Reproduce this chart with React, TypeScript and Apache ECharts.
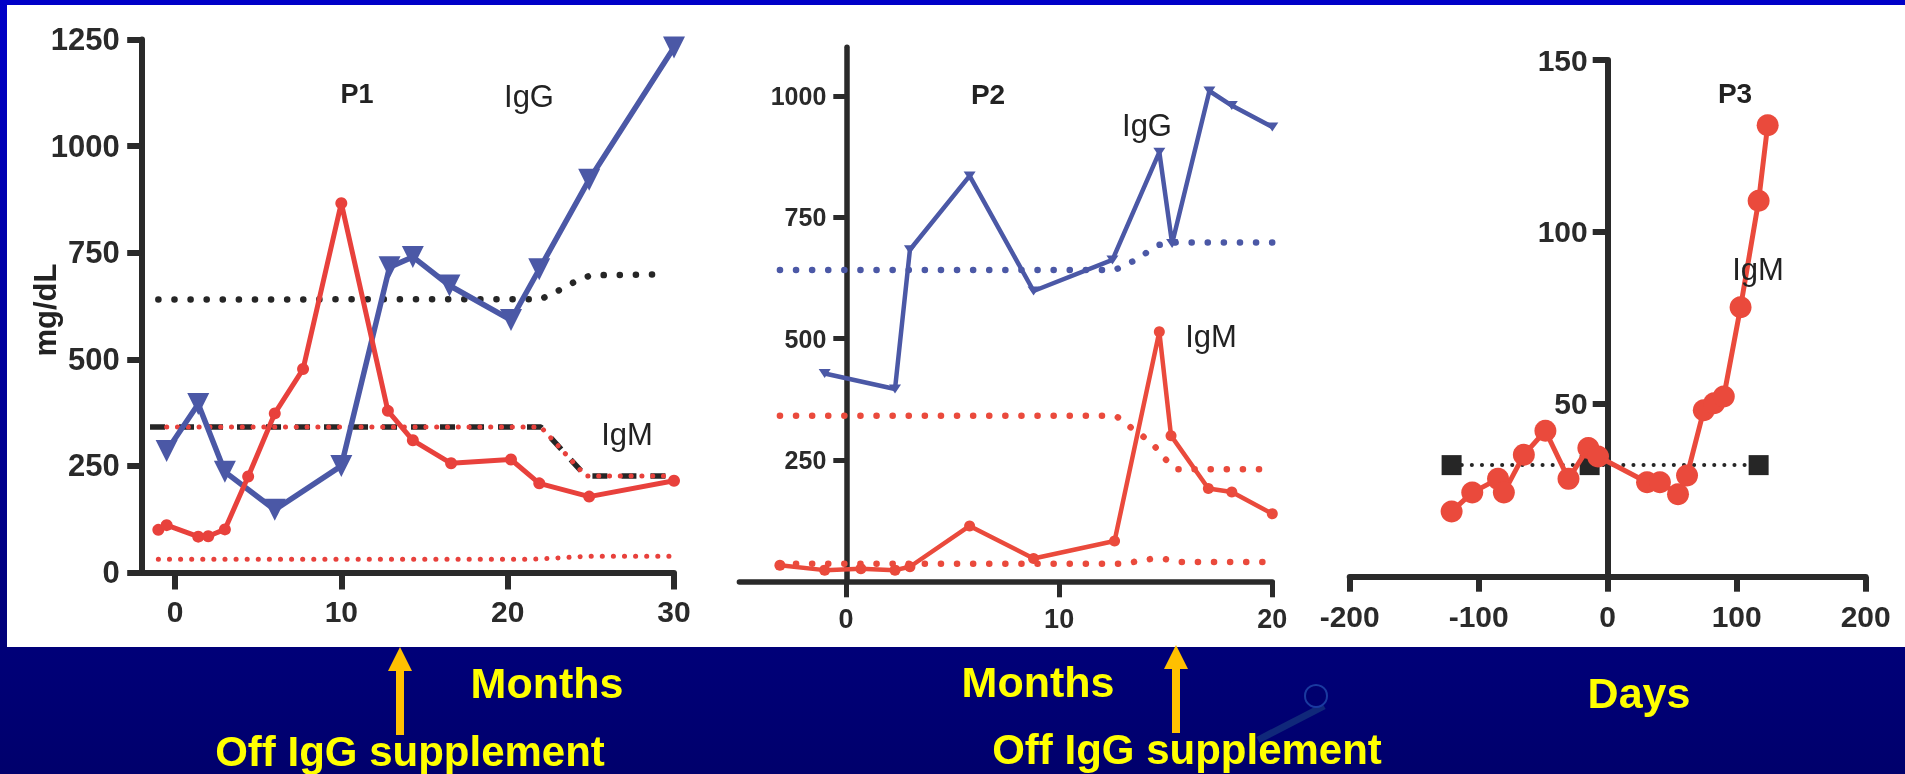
import React, { useEffect, useRef } from 'react';
import * as echarts from 'echarts';

// ---------- data ----------
const p1XTicks = [0, 10, 20, 30];
const p1YTicks = [0, 250, 500, 750, 1000, 1250];
const p2XTicks = [0, 10, 20];
const p2YTicks = [250, 500, 750, 1000];
const p3XTicks = [-200, -100, 0, 100, 200];
const p3YTicks = [50, 100, 150];

const p1IgG = [[-0.5, 285], [1.4, 395], [3.0, 236], [6.0, 147], [10.0, 250], [12.9, 716], [14.3, 740], [16.5, 673], [20.2, 592], [21.9, 711], [24.9, 921], [30, 1231]];
const p1IgM = [[-1.0, 100], [-0.5, 111], [1.4, 84], [2.0, 85], [3.0, 101], [4.4, 225], [6.0, 373], [7.7, 477], [10.0, 866], [12.8, 379], [14.3, 310], [16.6, 256], [20.2, 265], [21.9, 209], [24.9, 178], [30, 215]];
const p1IgGNormal = [[-1, 640], [22, 641], [23, 660], [24, 681], [25, 697], [29.6, 699]];
const p1IgMUpperBlack = [[-1.5, 341], [22, 341], [24.7, 226], [30, 226]];
const p1IgMUpperRed = [[-0.5, 341], [22, 341], [24.7, 226], [30, 226]];
const p1IgMLower = [[-1, 31], [21.5, 31], [24.8, 38], [30, 38]];

const p2IgG = [[-1.0, 428], [2.3, 396], [3.0, 683], [5.8, 835], [8.8, 598], [12.5, 662], [14.7, 884], [15.3, 696], [17.05, 1010], [18.1, 980], [20, 936]];
const p2IgM = [[-3.1, 33], [-1.0, 23], [0.7, 26], [2.3, 23], [3.0, 30], [5.8, 114], [8.8, 47], [12.6, 83], [14.7, 514], [15.25, 300], [17.0, 191], [18.1, 184], [20, 139]];
const p2IgGNormal = [[-3.1, 641], [12.6, 641], [13.5, 660], [14.1, 677], [14.7, 693], [15.5, 698], [20, 698]];
const p2IgMUpper = [[-3.1, 341], [12.1, 341], [12.75, 338], [13.3, 319], [13.95, 298], [14.5, 277], [15.0, 251], [15.5, 231], [20, 231]];
const p2IgMLower = [[-3.1, 36], [12.8, 36], [13.5, 40], [14.3, 46], [15.0, 45.5], [15.7, 40], [19.6, 40]];

const p3IgM = [[-121, 18.5], [-105, 24], [-85, 28], [-80.5, 24], [-65, 35], [-48.3, 42], [-30.4, 28], [-15, 37], [-7.5, 34.5], [30.5, 27], [40.5, 27], [54.5, 23.5], [61.5, 29], [74.5, 48], [82.5, 50], [90, 52], [103, 78], [117, 109], [124, 131]];
const p3Normal = [[-121, 32], [-14, 32], [117, 32]];

// ---------- styles ----------
const BLUE = '#4b58a6';
const RED = '#e8413c';
const RED2 = '#ea4a3c';
const BLACK = '#262626';
const AXIS = '#2a2a2a';
const FONT = '"Liberation Sans", Arial, Helvetica, sans-serif';
const YELLOW = '#ffff00';
const GOLD = '#ffc000';

function axis(opts: any) {
  return {
    type: 'value',
    gridIndex: opts.grid,
    min: opts.min,
    max: opts.max,
    offset: opts.offset || 0,
    axisLine: { show: true, onZero: false, lineStyle: { color: AXIS, width: opts.lw } },
    axisTick: { show: true, inside: false, length: opts.tickLen, customValues: opts.ticks, lineStyle: { color: AXIS, width: opts.tw } },
    axisLabel: {
      show: true,
      customValues: opts.ticks,
      formatter: (v: number) => String(v),
      color: AXIS,
      fontSize: opts.fs,
      fontWeight: 'bold',
      fontFamily: FONT,
      margin: opts.margin,
    },
    splitLine: { show: false },
  };
}

function dotted(xi: number, data: any, color: string, width: number, gap: number, z = 2) {
  return {
    type: 'line',
    xAxisIndex: xi,
    yAxisIndex: xi,
    data,
    symbol: 'none',
    showSymbol: false,
    silent: true,
    z,
    lineStyle: { color, width, type: [0.1, gap], cap: 'round' },
  };
}

function txt(text: string, x: number, y: number, size: number, bold: boolean, fill = '#222', extra: any = {}) {
  return {
    type: 'text',
    x,
    y,
    silent: true,
    z: 20,
    ...extra,
    style: {
      text,
      fill,
      font: `${bold ? 'bold ' : ''}${size}px ${FONT}`,
      align: 'center',
      verticalAlign: 'middle',
    },
  };
}

export default function App() {
  const ref = useRef<HTMLDivElement>(null);
  useEffect(() => {
    document.body.style.margin = '0';
    const chart = echarts.init(ref.current as HTMLDivElement, null, { renderer: 'svg', width: 1905, height: 774 });
    const option: any = {
      animation: false,
      grid: [
        { left: 141.7, top: 39.4, width: 532.3, height: 533.1, containLabel: false, outerBoundsMode: 'none' },
        { left: 739.4, top: 47.3, width: 532.9, height: 534, containLabel: false, outerBoundsMode: 'none' },
        { left: 1349.7, top: 60, width: 516, height: 516.7, containLabel: false, outerBoundsMode: 'none' },
      ],
      xAxis: [
        axis({ grid: 0, min: -2, max: 30, lw: 6, tw: 6, tickLen: 17, ticks: p1XTicks, fs: 30, margin: 24 }),
        axis({ grid: 1, min: -5, max: 20, lw: 5.5, tw: 5, tickLen: 16, ticks: p2XTicks, fs: 27, margin: 24 }),
        axis({ grid: 2, min: -200, max: 200, lw: 6, tw: 6, tickLen: 15, ticks: p3XTicks, fs: 30, margin: 25 }),
      ],
      yAxis: [
        axis({ grid: 0, min: 0, max: 1250, lw: 6, tw: 6, tickLen: 14.5, ticks: p1YTicks, fs: 31, margin: 22 }),
        axis({ grid: 1, min: 0, max: 1100, lw: 5.5, tw: 5, tickLen: 13, ticks: p2YTicks, fs: 25, margin: 20, offset: -106.9 }),
        axis({ grid: 2, min: -0.5, max: 150, lw: 6, tw: 6, tickLen: 15, ticks: p3YTicks, fs: 30, margin: 20, offset: -258 }),
      ],
      series: [
        // P1 reference ranges
        dotted(0, p1IgGNormal, BLACK, 6.5, 16),
        {
          type: 'line', xAxisIndex: 0, yAxisIndex: 0, data: p1IgMUpperBlack, symbol: 'none', showSymbol: false, silent: true, z: 2,
          lineStyle: { color: BLACK, width: 5.5, type: [15, 14] },
        },
        dotted(0, p1IgMUpperRed, RED, 5, 10.7, 3),
        dotted(0, p1IgMLower, RED, 5, 11),
        // P1 data
        {
          type: 'line', xAxisIndex: 0, yAxisIndex: 0, data: p1IgG, symbol: 'triangle', symbolSize: [22, 22], symbolRotate: 180,
          silent: true, z: 5, lineStyle: { color: BLUE, width: 5.5 }, itemStyle: { color: BLUE },
        },
        {
          type: 'line', xAxisIndex: 0, yAxisIndex: 0, data: p1IgM, symbol: 'circle', symbolSize: 12,
          silent: true, z: 6, lineStyle: { color: RED, width: 5 }, itemStyle: { color: RED },
        },
        // P2 reference ranges
        dotted(1, p2IgGNormal, BLUE, 6.5, 16),
        dotted(1, p2IgMUpper, RED2, 6.5, 16),
        dotted(1, p2IgMLower, RED2, 6.5, 16),
        // P2 data
        {
          type: 'line', xAxisIndex: 1, yAxisIndex: 1, data: p2IgG, symbol: 'triangle', symbolSize: [12, 9], symbolRotate: 180,
          silent: true, z: 5, lineStyle: { color: BLUE, width: 4.5 }, itemStyle: { color: BLUE },
        },
        {
          type: 'line', xAxisIndex: 1, yAxisIndex: 1, data: p2IgM, symbol: 'circle', symbolSize: 11,
          silent: true, z: 6, lineStyle: { color: RED2, width: 4.5 }, itemStyle: { color: RED2 },
        },
        // P3
        {
          type: 'line', xAxisIndex: 2, yAxisIndex: 2, data: p3Normal, symbol: 'rect', symbolSize: 20,
          silent: true, z: 4, lineStyle: { color: BLACK, width: 4, type: [0.1, 10], cap: 'round' }, itemStyle: { color: BLACK },
        },
        {
          type: 'line', xAxisIndex: 2, yAxisIndex: 2, data: p3IgM, symbol: 'circle', symbolSize: 22,
          silent: true, z: 6, lineStyle: { color: RED2, width: 5 }, itemStyle: { color: RED2 },
        },
      ],
      graphic: [
        {
          type: 'rect', z: -20, silent: true,
          shape: { x: 0, y: 0, width: 1905, height: 774 },
          style: {
            fill: {
              type: 'linear', x: 0, y: 0, x2: 0, y2: 1,
              colorStops: [
                { offset: 0, color: '#0000c8' },
                { offset: 0.84, color: '#000078' },
                { offset: 1, color: '#00006c' },
              ],
            },
          },
        },
        { type: 'rect', z: -19, silent: true, shape: { x: 7, y: 5, width: 1898, height: 642 }, style: { fill: '#ffffff' } },
        txt('mg/dL', 45, 310, 31, true, '#222', { rotation: Math.PI / 2 }),
        txt('P1', 357, 93.5, 27, true),
        txt('IgG', 529, 96, 31, false),
        txt('IgM', 627, 434, 31, false),
        txt('P2', 988, 94, 28, true),
        txt('IgG', 1147, 125, 31, false),
        txt('IgM', 1211, 336, 31, false),
        txt('P3', 1735, 93, 28, true),
        txt('IgM', 1758, 269, 31, false),
        // bottom annotations
        txt('Months', 547, 683, 43, true, YELLOW),
        txt('Months', 1038, 682, 43, true, YELLOW),
        txt('Days', 1639, 693, 43, true, YELLOW),
        txt('Off IgG supplement', 410, 751, 42, true, YELLOW),
        txt('Off IgG supplement', 1187, 749, 42, true, YELLOW),
        // arrows
        { type: 'polygon', z: 15, silent: true, shape: { points: [[400, 647], [388, 671], [412, 671]] }, style: { fill: GOLD } },
        { type: 'rect', z: 15, silent: true, shape: { x: 396, y: 670, width: 8, height: 65 }, style: { fill: GOLD } },
        { type: 'polygon', z: 15, silent: true, shape: { points: [[1176, 645], [1164, 669], [1188, 669]] }, style: { fill: GOLD } },
        { type: 'rect', z: 15, silent: true, shape: { x: 1172, y: 668, width: 8, height: 65 }, style: { fill: GOLD } },
        // faint pin artifact
        { type: 'line', z: 14, silent: true, shape: { x1: 1324, y1: 706, x2: 1258, y2: 740 }, style: { stroke: '#10287a', lineWidth: 7 } },
        { type: 'circle', z: 14, silent: true, shape: { cx: 1316, cy: 696, r: 11 }, style: { fill: '#00006e', stroke: '#1a3aa0', lineWidth: 2 } },
      ],
    };
    chart.setOption(option);
    return () => chart.dispose();
  }, []);
  return <div ref={ref} style={{ position: 'fixed', left: 0, top: 0, width: 1905, height: 774 }} />;
}
